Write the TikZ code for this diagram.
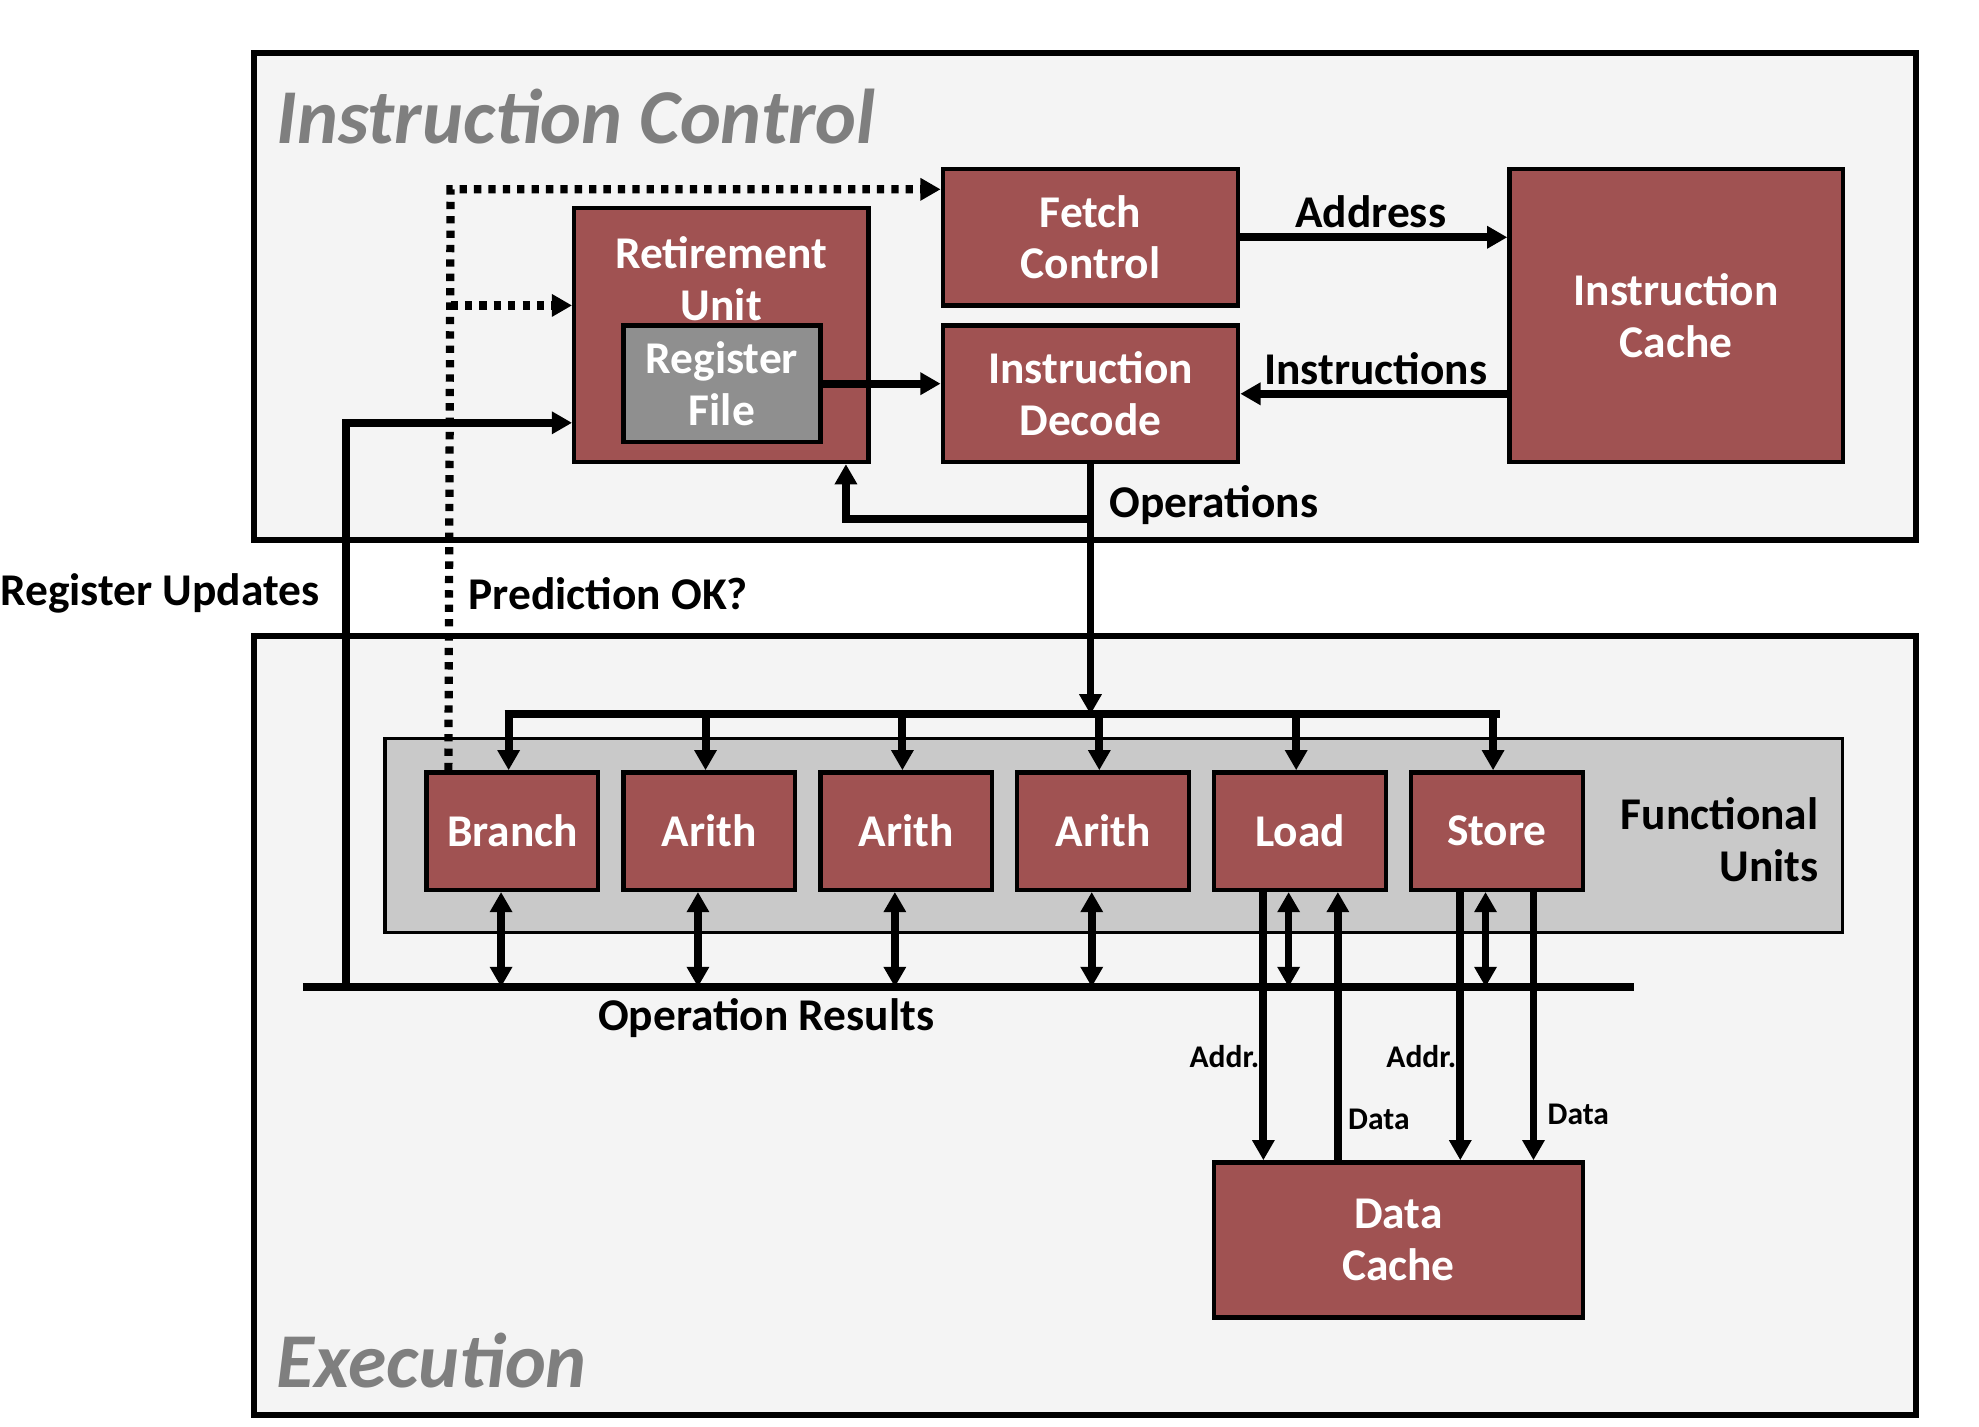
\documentclass[tikz,border=0pt]{standalone}
\usepackage{fontspec}
\setmainfont{Carlito}
\usetikzlibrary{arrows.meta,calc}
\definecolor{boxred}{RGB}{160,82,82}
\definecolor{panel}{RGB}{244,244,244}
\definecolor{fugray}{RGB}{201,201,201}
\definecolor{rfgray}{RGB}{143,143,143}
\definecolor{titlegray}{RGB}{127,127,127}
\tikzset{
  redbox/.style={draw, line width=3.5pt, fill=boxred, text=white, align=center, inner sep=0pt,
    font=\bfseries\fontsize{36}{41}\selectfont},
  fu/.style={redbox, minimum width=136pt, minimum height=93pt},
  lbl/.style={font=\bfseries\fontsize{36}{41}\selectfont, inner sep=0pt, align=center},
  small/.style={font=\bfseries\fontsize{25}{30}\selectfont, inner sep=0pt},
  title/.style={font=\bfseries\itshape\fontsize{61.5}{70}\selectfont, text=titlegray, inner sep=0pt, anchor=base west},
  panelbox/.style={draw, line width=4.5pt, fill=panel},
  tip/.tip={Triangle[length=16pt,width=17pt]},
  conn/.style={line width=6.3pt, -tip},
  dconn/.style={line width=6pt, tip-tip},
  plain/.style={line width=6.3pt},
  dots/.style={line width=6.5pt, dash pattern=on 5.8pt off 5.6pt}
}
\begin{document}
\begin{tikzpicture}[x=1pt,y=-1pt]
\useasboundingbox (0,0) rectangle (1568,1130);
% panels
\draw[panelbox] (201,42) rectangle (1518,428);
\draw[panelbox] (201,504) rectangle (1518,1121);
\node[title] (tic) at (219,114) {Instruction Control};
\node[title] (tex) at (219,1099) {Execution};
% functional units box
\draw[line width=2.5pt, fill=fugray] (305,585) rectangle (1460,739);
\node[lbl, align=right, anchor=east] (fulbl) at (1441,665) {Functional\\Units};
% instruction control nodes
\node[redbox, minimum width=234pt, minimum height=108pt] (fetch) at (864,188) {Fetch\\Control};
\node[redbox, minimum width=234pt, minimum height=108pt] (decode) at (864,312) {Instruction\\Decode};
\node[redbox, minimum width=264pt, minimum height=232pt] (icache) at (1328,250) {Instruction\\Cache};
\node[redbox, minimum width=233pt, minimum height=201pt] (retire) at (571.5,265.5) {};
\node[lbl, text=white] (retlbl) at (571.5,221) {Retirement\\Unit};
\node[redbox, fill=rfgray, minimum width=156pt, minimum height=92pt] (regfile) at (572,304) {Register\\File};
% functional units
\node[fu] (branch) at (406,658.5) {Branch};
\node[fu] (arith1) at (562,658.5) {Arith};
\node[fu] (arith2) at (718,658.5) {Arith};
\node[fu] (arith3) at (874,658.5) {Arith};
\node[fu] (load) at (1030,658.5) {Load};
\node[fu] (store) at (1186,658.5) {Store};
\node[redbox, minimum width=292pt, minimum height=123pt] (dcache) at (1108,982.5) {Data\\Cache};
% connectors in instruction control
\draw[conn] (fetch.east) -- (icache.west |- fetch.east);
\node[lbl] (addrlbl) at (1086,168) {Address};
\draw[conn] (icache.west |- decode.east) -- (decode.east);
\node[lbl] (instlbl) at (1090,292) {Instructions};
\draw[conn] (regfile.east) -- (decode.west |- regfile.east);
\coordinate (busjoin) at (864,566);
\coordinate (opsplit) at (864,411);
\draw[conn] (decode.south) -- (busjoin);
\draw[conn] (opsplit) -| ([xshift=-19.5pt]retire.south east);
\node[lbl, anchor=west] (oplbl) at (879,400) {Operations};
% distribution bus
\coordinate (busL) at (403,566);
\coordinate (busR) at (1185,566);
\draw[plain] ([xshift=-3.15pt]busL) -- ([xshift=3.15pt]busR);
\foreach \u in {branch,arith1,arith2,arith3,load,store}{
  \draw[conn] ([xshift=-3pt]\u.north |- busL) -- ([xshift=-3pt]\u.north);
}
% operation results bus
\coordinate (resL) at (240,782);
\coordinate (resR) at (1295,782);
\draw[line width=6.5pt] (resL) -- (resR);
\node[lbl] (reslbl) at (607,807) {Operation Results};
\foreach \u in {branch,arith1,arith2,arith3,load,store}{
  \draw[dconn] ([xshift=-9pt]\u.south) -- ([xshift=-9pt]\u.south |- resL);
}
% register updates
\coordinate (ru) at (274,782);
\draw[conn] (ru) |- (retire.west |- 0,335);
\node[lbl, anchor=west] (rulbl) at (0,470) {Register Updates};
% prediction ok
\coordinate (pcorner) at (357,150);
\draw[dots, -tip] ([xshift=19pt]branch.north west) -- (pcorner) -- (fetch.west |- pcorner);
\draw[dots, -tip] (357,242) -- (retire.west |- 0,242);
\node[lbl, anchor=west] (predlbl) at (371,470) {Prediction OK?};
% data cache connections
\draw[conn] ([xshift=-29pt]load.south) -- ([xshift=-29pt]load.south |- dcache.north);
\draw[conn] ([xshift=30pt]load.south |- dcache.north) -- ([xshift=30pt]load.south);
\draw[conn] ([xshift=-29pt]store.south) -- ([xshift=-29pt]store.south |- dcache.north);
\draw[conn] ([xshift=29pt]store.south) -- ([xshift=29pt]store.south |- dcache.north);
\node[small, anchor=east] (a1) at (998,837) {Addr.};
\node[small, anchor=west] (d1) at (1068,887) {Data};
\node[small, anchor=east] (a2) at (1154,837) {Addr.};
\node[small, anchor=west] (d2) at (1226,883) {Data};
\end{tikzpicture}
\end{document}
